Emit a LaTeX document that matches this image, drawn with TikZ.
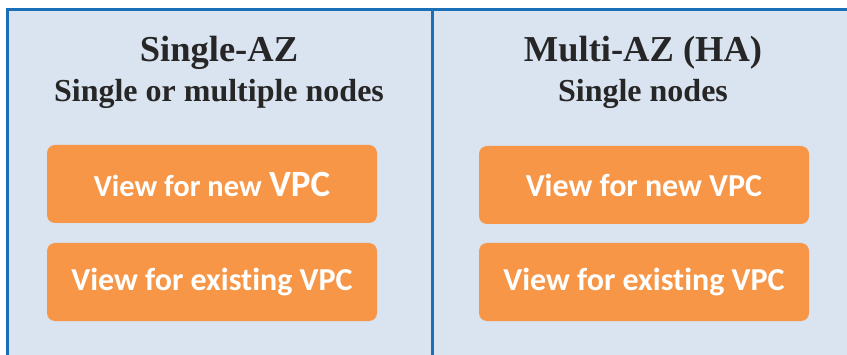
\documentclass[tikz,border=0pt]{standalone}
\usepackage{fontspec}
\setmainfont{Carlito}[Ligatures={NoCommon,NoContextual}]
\newfontfamily\headfont{Liberation Serif}
\definecolor{panelfill}{HTML}{DAE3F0}
\definecolor{paneledge}{HTML}{1B6EB8}
\definecolor{viewbtn}{HTML}{F79646}
\definecolor{headtext}{HTML}{262626}

\begin{document}
\begin{tikzpicture}[x=1pt, y=1pt,
    panel/.style={fill=panelfill, draw=paneledge, line width=3pt},
    heading/.style={anchor=base, text=headtext, font=\headfont\bfseries\fontsize{36.5}{40}\selectfont},
    subheading/.style={anchor=base, text=headtext, font=\headfont\bfseries\fontsize{32}{36}\selectfont},
    viewbox/.style={fill=viewbtn, rounded corners=8pt, minimum width=330pt, minimum height=78pt,
        inner sep=0pt, text=white, font=\bfseries\fontsize{32}{36}\selectfont}]
    \clip (0,0) rectangle (847,354);
    \fill[white] (0,0) rectangle (847,354);
    \filldraw[panel] (7.5,-10) rectangle (432,344.5);
    \filldraw[panel] (432,-10) rectangle (870,344.5);
    \node[heading] (singleAZ) at (219,292.3) {Single-AZ};
    \node[subheading] (singleSub) at (219,252.3) {Single or multiple nodes};
    \node[heading] (multiAZ) at (643,292.3) {Multi-AZ (HA)};
    \node[subheading] (multiSub) at (643,252.3) {Single nodes};
    \node[viewbox] (singleNew) at (212,170) {{\fontsize{30.5}{36}\selectfont View for new} {\fontsize{37}{40}\selectfont VPC}};
    \node[viewbox] (singleOld) at (212,72) {View for existing VPC};
    \node[viewbox] (multiNew) at (644,169) {View for new VPC};
    \node[viewbox] (multiOld) at (644,72) {View for existing VPC};
\end{tikzpicture}
\end{document}
